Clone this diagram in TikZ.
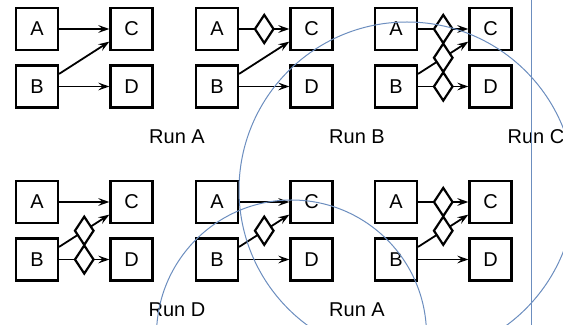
\documentclass[tikz,border=0pt]{standalone}
\usepackage{fontspec}
\setmainfont{Liberation Sans}
\usetikzlibrary{shapes.geometric,arrows.meta}

\definecolor{guideblue}{RGB}{108,142,191}

\begin{document}
\begin{tikzpicture}[x=0.5pt, y=-0.5pt,
  box/.style={draw, line width=1.1pt, minimum width=21pt, minimum height=21pt, inner sep=0pt, font=\fontsize{10}{12}\selectfont},
  gate/.style={draw, fill=white, diamond, line width=1.1pt, minimum width=9.75pt, minimum height=14.5pt, inner sep=0pt},
  arr/.style={line width=0.9pt, -{Stealth[length=5.5pt, width=3.8pt, inset=2pt]}},
  lbl/.style={font=\fontsize{10}{12}\selectfont, inner sep=0pt},
  guide/.style={draw=guideblue, line width=0.5pt}]
\clip (0, 0) rectangle (563, 325);

\node[box] (a1) at (37, 29) {A};
\node[box] (b1) at (37, 86.5) {B};
\node[box] (c1) at (131.5, 29) {C};
\node[box] (d1) at (131.5, 86.5) {D};
\node[box] (a2) at (217, 29) {A};
\node[box] (b2) at (217, 86.5) {B};
\node[box] (c2) at (311.5, 29) {C};
\node[box] (d2) at (311.5, 86.5) {D};
\node[box] (a3) at (396, 29) {A};
\node[box] (b3) at (396, 86.5) {B};
\node[box] (c3) at (490.5, 29) {C};
\node[box] (d3) at (490.5, 86.5) {D};

\node[box] (a4) at (37, 202) {A};
\node[box] (b4) at (37, 259.5) {B};
\node[box] (c4) at (131.5, 202) {C};
\node[box] (d4) at (131.5, 259.5) {D};
\node[box] (a5) at (217, 202) {A};
\node[box] (b5) at (217, 259.5) {B};
\node[box] (c5) at (311.5, 202) {C};
\node[box] (d5) at (311.5, 259.5) {D};
\node[box] (a6) at (396, 202) {A};
\node[box] (b6) at (396, 259.5) {B};
\node[box] (c6) at (490.5, 202) {C};
\node[box] (d6) at (490.5, 259.5) {D};

\draw[arr] (a1) to (c1);
\draw[arr] ([yshift=6.3pt]b1.east) to ([yshift=-6.3pt]c1.west);
\draw[arr] (b1) to (d1);
\draw[arr] (a2) to (c2);
\draw[arr] ([yshift=6.3pt]b2.east) to ([yshift=-6.3pt]c2.west);
\draw[arr] (b2) to (d2);
\draw[arr] (a3) to (c3);
\draw[arr] ([yshift=6.3pt]b3.east) to ([yshift=-6.3pt]c3.west);
\draw[arr] (b3) to (d3);

\draw[arr] (a4) to (c4);
\draw[arr] ([yshift=6.3pt]b4.east) to ([yshift=-6.3pt]c4.west);
\draw[arr] (b4) to (d4);
\draw[arr] (a5) to (c5);
\draw[arr] ([yshift=6.3pt]b5.east) to ([yshift=-6.3pt]c5.west);
\draw[arr] (b5) to (d5);
\draw[arr] (a6) to (c6);
\draw[arr] ([yshift=6.3pt]b6.east) to ([yshift=-6.3pt]c6.west);
\draw[arr] (b6) to (d6);

% diamonds sit on the middle of the edges
\node[gate] (g2ac) at (264.25, 29) {};
\node[gate] (g3ac) at (443.25, 29) {};
\node[gate] (g3bc) at (443.25, 57.75) {};
\node[gate] (g3bd) at (443.25, 86.5) {};
\node[gate] (g4bc) at (84.25, 230.75) {};
\node[gate] (g4bd) at (84.25, 259.5) {};
\node[gate] (g5bc) at (264.25, 230.75) {};
\node[gate] (g6ac) at (443.25, 202) {};
\node[gate] (g6bc) at (443.25, 230.75) {};

\node[lbl] (r1) at (177, 137) {Run A};
\node[lbl] (r2) at (357, 137) {Run B};
\node[lbl] (r3) at (536, 137) {Run C};
\node[lbl] (r4) at (177, 310) {Run D};
\node[lbl] (r5) at (357, 310) {Run A};

\draw[guide] (407, 190) circle[radius=168];
\draw[guide] (291.5, 335) circle[radius=135];
\coordinate (v1) at (531, 0);
\coordinate (v2) at (531, 325);
\draw[guide] (v1) -- (v2);

\end{tikzpicture}
\end{document}
